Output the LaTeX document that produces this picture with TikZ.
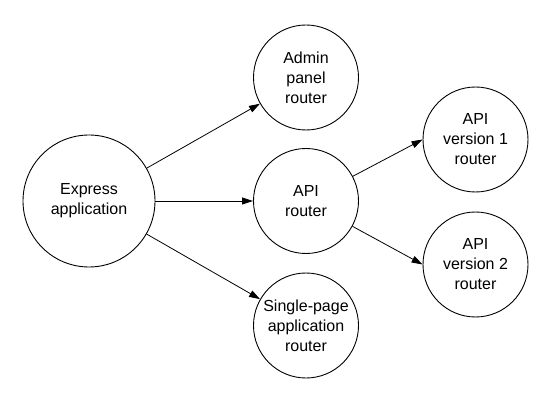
\documentclass[tikz,border=0pt]{standalone}
\usepackage{fontspec}
\setmainfont{Liberation Sans}
\usetikzlibrary{arrows.meta}
\begin{document}
\begin{tikzpicture}[x=1pt,y=-1pt,
  bubble/.style={circle,draw,line width=0.9pt,fill=white,inner sep=0pt,align=center,
    font=\fontsize{16}{20}\selectfont},
  big/.style={bubble,minimum size=132pt},
  small/.style={bubble,minimum size=105pt},
  conn/.style={line width=0.8pt,-{Triangle[length=11pt,width=7pt]}}]
\useasboundingbox (0,0) rectangle (552,401);
\node[big] (exp) at (89,201) {Express\\application};
\node[small] (admin) at (306,77.5) {Admin\\panel\\router};
\node[small] (api) at (306,201) {API\\router};
\node[small] (spa) at (306,325.5) {Single-page\\application\\router};
\node[small] (v1) at (475.5,139.5) {API\\version 1\\router};
\node[small] (v2) at (475.5,264.5) {API\\version 2\\router};
\draw[conn] (exp) -- (admin);
\draw[conn] (exp) -- (api);
\draw[conn] (exp) -- (spa);
\draw[conn] (api) -- (v1.west);
\draw[conn] (api) -- (v2.west);
\end{tikzpicture}
\end{document}
